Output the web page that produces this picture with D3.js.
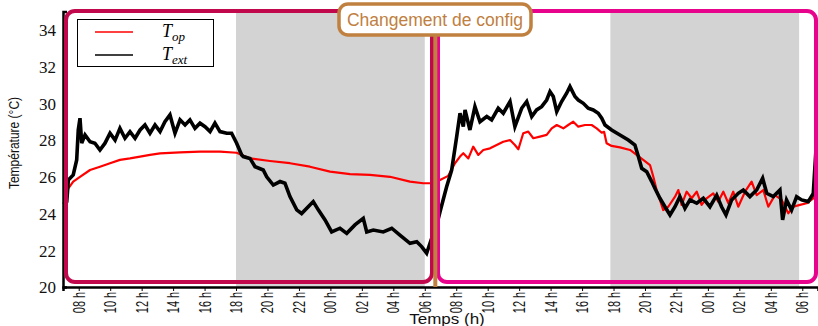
<!DOCTYPE html>
<html>
<head>
<meta charset="utf-8">
<script src="https://cdn.jsdelivr.net/npm/d3@7"></script>
<style>
  html, body { margin: 0; padding: 0; background: #fff; }
  svg { display: block; }
</style>
</head>
<body>
<svg id="chart" width="818" height="326"></svg>
<script>
// Time is in hours counted from midnight of the first day (07:00 day 1 -> 07:00 day 3).
const opTimes = [7.06, 7.34, 7.65, 8.08, 8.72, 9.35, 9.99, 10.62, 11.26, 11.9, 12.53, 13.17, 14.44, 15.71, 16.98, 18.04,
  18.89, 20.16, 21.43, 22.7, 23.98, 25.25, 26.52, 27.79, 29.06, 29.9, 30.54, 30.97, 31.49, 31.92, 32.24, 32.45, 32.77,
  33.08, 33.4, 33.72, 34.15, 34.57, 34.99, 35.42, 35.73, 35.95, 36.26, 36.58, 36.9, 37.32, 37.75, 38.07, 38.39, 38.81,
  39.12, 39.44, 39.76, 40.19, 40.61, 40.93, 41.25, 41.4, 41.56, 41.88, 42.41, 43.05, 43.47, 43.89, 44.32, 44.53, 44.74,
  44.95, 45.16, 45.48, 45.91, 46.12, 46.33, 46.65, 46.97, 47.29, 47.6, 47.92, 48.34, 48.66, 48.98, 49.3, 49.61, 49.93,
  50.36, 50.78, 51.1, 51.52, 51.84, 52.26, 52.69, 53.11, 53.43, 53.85, 54.28, 54.7, 55.0];
const opValues = [24.7, 25.37, 25.74, 26.0, 26.37, 26.55, 26.74, 26.92, 27.0, 27.1, 27.19, 27.28, 27.33, 27.37, 27.37, 27.31,
  27.0, 26.86, 26.74, 26.55, 26.28, 26.15, 26.1, 26.0, 25.74, 25.65, 25.65, 25.83, 26.05, 26.74, 27.1, 27.28, 27.0,
  27.64, 27.19, 27.46, 27.55, 27.73, 27.91, 28.0, 27.73, 27.5, 28.37, 28.46, 28.1, 28.19, 28.28, 28.64, 28.82, 28.64,
  28.82, 29.0, 28.73, 28.82, 28.82, 28.64, 28.4, 28.45, 27.83, 27.68, 27.6, 27.46, 27.19, 26.92, 26.64, 26.0, 25.28,
  24.74, 24.19, 24.37, 24.92, 25.28, 24.47, 25.19, 24.83, 25.19, 24.47, 24.83, 25.1, 24.65, 25.19, 24.56, 25.19, 24.37,
  25.19, 25.74, 25.0, 25.28, 24.37, 25.0, 24.74, 24.01, 24.37, 24.47, 24.56, 24.83, 25.56];

const extTimes = [7.03, 7.24, 7.34, 7.65, 7.87, 7.97, 8.08, 8.19, 8.4, 8.72, 9.03, 9.35, 9.67, 9.99, 10.31, 10.62, 10.94,
  11.26, 11.58, 11.9, 12.21, 12.53, 12.85, 13.17, 13.48, 13.8, 14.12, 14.44, 14.76, 15.07, 15.39, 15.71, 16.03, 16.35,
  16.66, 16.98, 17.41, 17.72, 18.04, 18.36, 18.46, 18.89, 19.21, 19.73, 19.95, 20.37, 20.8, 21.11, 21.43, 21.86, 22.17,
  22.59, 22.91, 23.23, 23.66, 24.08, 24.61, 25.04, 25.56, 26.09, 26.31, 26.73, 27.36, 27.9, 28.42, 29.06, 29.49, 29.8,
  30.12, 30.44, 30.52, 30.84, 30.97, 31.28, 31.39, 31.71, 32.03, 32.24, 32.45, 32.56, 32.87, 33.19, 33.51, 33.94, 34.25,
  34.67, 34.99, 35.42, 35.73, 36.16, 36.48, 36.8, 37.11, 37.43, 37.75, 37.96, 38.17, 38.39, 38.7, 39.02, 39.23, 39.55,
  39.76, 40.08, 40.39, 40.71, 41.03, 41.25, 41.46, 41.88, 42.41, 42.94, 43.36, 43.58, 43.79, 44.11, 44.43, 44.63, 44.95,
  45.27, 45.59, 45.91, 46.22, 46.54, 46.86, 47.29, 47.71, 48.13, 48.56, 48.87, 49.15, 49.51, 49.93, 50.25, 50.67, 51.1,
  51.48, 51.74, 52.16, 52.58, 52.75, 53.0, 53.32, 53.64, 53.96, 54.38, 54.7, 54.87];
const extValues = [24.5, 24.65, 25.83, 26.1, 26.92, 28.55, 29.19, 27.83, 28.28, 27.91, 27.83, 27.46, 27.83, 28.37, 28.0, 28.64,
  28.1, 28.46, 28.1, 28.55, 28.82, 28.37, 28.82, 28.46, 29.0, 29.37, 28.37, 29.1, 28.82, 29.1, 28.64, 28.92, 28.73, 28.46,
  28.92, 28.46, 28.37, 28.37, 27.83, 27.19, 27.1, 27.0, 26.55, 26.37, 26.0, 25.55, 25.74, 25.65, 24.92, 24.2, 24.0,
  24.37, 24.65, 24.2, 23.65, 23.0, 23.2, 22.92, 23.38, 23.74, 23.0, 23.1, 23.0, 23.2, 22.83, 22.38, 22.47, 22.2,
  21.84, 22.65, 22.72, 23.65, 24.1, 25.1, 25.46, 26.37, 28.19, 29.46, 28.73, 29.64, 28.55, 29.82, 29.0, 29.28, 29.1,
  29.73, 29.46, 30.1, 28.73, 29.73, 30.1, 29.28, 29.64, 29.82, 30.18, 30.64, 30.37, 29.55, 30.1, 30.55, 30.91, 30.37,
  30.18, 30.0, 29.73, 29.64, 29.46, 29.19, 28.82, 28.55, 28.28, 28.0, 27.73, 27.1, 26.46, 26.28, 25.74, 25.38, 24.83,
  24.37, 23.92, 24.37, 24.92, 24.28, 24.74, 24.56, 24.83, 24.37, 25.0, 24.37, 23.92, 24.74, 25.1, 25.28, 24.92, 25.28,
  25.92, 25.1, 24.92, 25.28, 23.65, 24.74, 24.19, 24.92, 24.74, 24.65, 25.1, 27.46];

// Night periods (grey bands), start/end in hours
const nightStart = [18.0, 41.8];
const nightEnd = [30.0, 53.8];

// Tick positions (every two hours) and value ticks
const hourTicks = [8, 10, 12, 14, 16, 18, 20, 22, 24, 26, 28, 30, 32, 34, 36, 38, 40, 42, 44, 46, 48, 50, 52, 54];
const tempTicks = [20, 22, 24, 26, 28, 30, 32, 34];
const configChangeHour = 30.67;

const svg = d3.select("#chart");
const x = d3.scaleLinear().domain([7, 55]).range([63, 818]);
const y = d3.scaleLinear().domain([20, 35]).range([287, 11.5]);

// Night shading
svg.append("g").selectAll("rect")
  .data(nightStart.map((s, i) => [s, nightEnd[i]]))
  .join("rect")
  .attr("x", d => x(d[0]))
  .attr("y", y(35))
  .attr("width", d => x(d[1]) - x(d[0]))
  .attr("height", y(20) - y(35))
  .attr("fill", "#d3d3d3");

// Series
const opData = opTimes.map((t, i) => [t, opValues[i]]);
const extData = extTimes.map((t, i) => [t, extValues[i]]);
const line = d3.line().x(d => x(d[0])).y(d => y(d[1]));

svg.append("path").datum(opData)
  .attr("d", line).attr("fill", "none")
  .attr("stroke", "#ff0000").attr("stroke-width", 2.2).attr("stroke-linejoin", "round");
svg.append("path").datum(extData)
  .attr("d", line).attr("fill", "none")
  .attr("stroke", "#000").attr("stroke-width", 3.6).attr("stroke-linejoin", "miter");

// Axes
const yAxis = d3.axisLeft(y).tickValues(tempTicks).tickSize(-4).tickPadding(7).tickFormat(d3.format("d"));
const gy = svg.append("g").attr("transform", `translate(${x(7)},0)`).call(yAxis);
gy.select(".domain").attr("stroke", "#000").attr("stroke-width", 2.5);
gy.selectAll(".tick line").attr("stroke", "#000");
gy.selectAll(".tick text")
  .attr("font-family", "'Liberation Serif', 'DejaVu Serif', serif")
  .attr("font-size", 17).attr("fill", "#111").attr("dy", "0.34em");

const xAxis = d3.axisBottom(x).tickValues(hourTicks).tickSize(4)
  .tickFormat(h => String(h % 24).padStart(2, "0") + " h");
const gx = svg.append("g").attr("transform", `translate(0,${y(20)})`).call(xAxis);
gx.select(".domain").attr("stroke", "#000").attr("stroke-width", 2.5);
gx.selectAll(".tick line").attr("stroke", "#000");
gx.selectAll(".tick text")
  .attr("font-family", "'Liberation Sans', Arial, sans-serif")
  .attr("font-size", 17).attr("fill", "#111")
  .attr("text-anchor", "end")
  .attr("y", 0).attr("dy", 0)
  .attr("transform", "translate(5.5,5) rotate(-90) scale(0.64,1)");

// Axis titles
svg.append("text")
  .attr("transform", "translate(19,143) rotate(-90) scale(0.8,1)")
  .attr("text-anchor", "middle")
  .attr("font-family", "'Liberation Sans', Arial, sans-serif")
  .attr("font-size", 15).attr("fill", "#111")
  .text("Température (°C)");
svg.append("text")
  .attr("transform", "translate(447,323.5) scale(1,0.82)")
  .attr("text-anchor", "middle")
  .attr("font-family", "'Liberation Sans', Arial, sans-serif")
  .attr("font-size", 17).attr("fill", "#111")
  .text("Temps (h)");

// Legend
const lg = svg.append("g");
lg.append("rect").attr("x", 77.5).attr("y", 19.5).attr("width", 136).attr("height", 47)
  .attr("fill", "#fff").attr("stroke", "#000").attr("stroke-width", 1);
const legendItems = [
  { sub: "op", color: "#ff0000", yy: 32 },
  { sub: "ext", color: "#000", yy: 55 }
];
legendItems.forEach(it => {
  lg.append("line").attr("x1", 95).attr("x2", 133).attr("y1", it.yy).attr("y2", it.yy)
    .attr("stroke", it.color).attr("stroke-width", 1.5);
  const t = lg.append("text").attr("x", 162).attr("y", it.yy + 5)
    .attr("font-family", "'Liberation Serif', 'DejaVu Serif', serif")
    .attr("font-style", "italic").attr("font-size", 18).attr("fill", "#000");
  t.append("tspan").text("T");
  t.append("tspan").attr("dy", 4).attr("dx", 0).attr("font-size", 13).text(it.sub);
});

// Configuration frames
svg.append("rect").attr("x", 66).attr("y", 11).attr("width", 366).attr("height", 271).attr("rx", 9)
  .attr("fill", "none").attr("stroke", "#c2084c").attr("stroke-width", 4);
svg.append("rect").attr("x", 438).attr("y", 11).attr("width", 378).attr("height", 271).attr("rx", 9)
  .attr("fill", "none").attr("stroke", "#e8038c").attr("stroke-width", 4);

// Configuration change marker
const brown = "#c0803f";
svg.append("line")
  .attr("x1", x(configChangeHour)).attr("x2", x(configChangeHour))
  .attr("y1", 34).attr("y2", y(20))
  .attr("stroke", brown).attr("stroke-width", 4);
svg.append("rect").attr("x", 339).attr("y", 4).attr("width", 192).attr("height", 31).attr("rx", 9)
  .attr("fill", "#fff").attr("stroke", brown).attr("stroke-width", 3.5);
svg.append("text").attr("x", 435).attr("y", 26)
  .attr("text-anchor", "middle")
  .attr("font-family", "'Liberation Sans', Arial, sans-serif")
  .attr("font-size", 17.5).attr("fill", brown)
  .text("Changement de config");
</script>
</body>
</html>
